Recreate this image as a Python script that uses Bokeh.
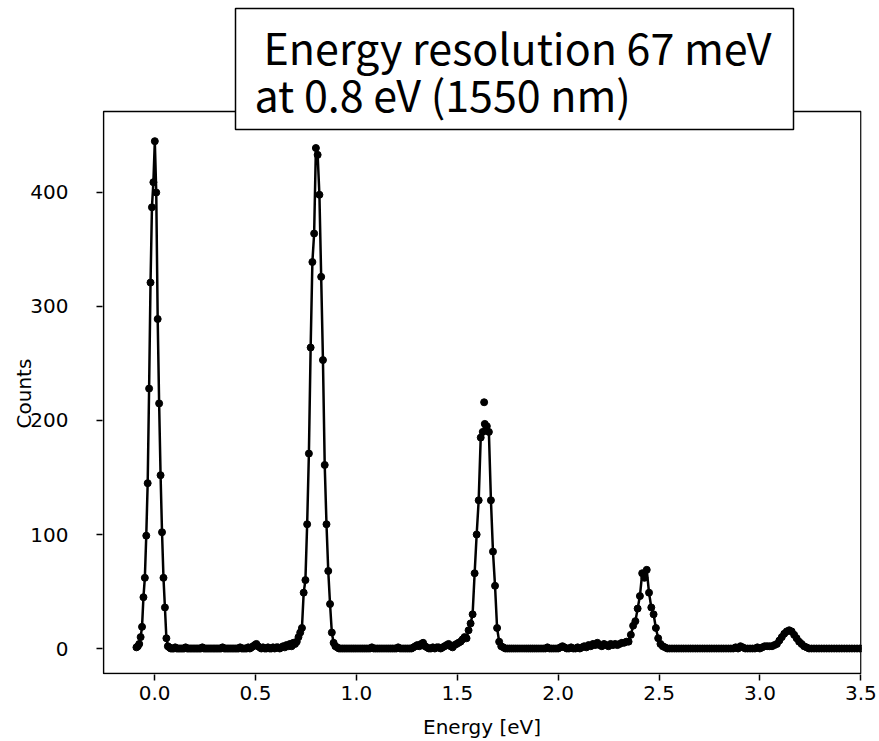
import numpy as np
from bokeh.plotting import figure
from bokeh.models import FixedTicker, PrintfTickFormatter, BoxAnnotation, Label, Range1d, Title
from bokeh.embed import file_html
from bokeh.resources import INLINE

# Energy calibration of the channels (eV)
CAL_OFFSET = -0.09
CAL_GAIN = 0.0069
CAL_QUAD = 7.9e-6

# Counts per channel
counts = [
    1, 2, 4, 10, 19, 45, 62, 99, 145, 228,
    321, 387, 409, 445, 400, 289, 215, 152, 102, 62,
    36, 9, 2, 1, 0, 0, 0, 1, 0, 0,
    0, 0, 0, 0, 1, 0, 0, 0, 0, 0,
    0, 0, 0, 0, 0, 1, 0, 0, 0, 0,
    0, 0, 0, 0, 0, 0, 0, 0, 1, 0,
    0, 0, 0, 0, 0, 0, 0, 0, 0, 1,
    0, 0, 0, 0, 1, 0, 1, 2, 3, 4,
    2, 1, 0, 1, 0, 0, 1, 0, 0, 1,
    0, 1, 1, 0, 1, 2, 1, 3, 2, 4,
    2, 5, 4, 6, 10, 14, 18, 49, 60, 109,
    171, 264, 339, 364, 439, 433, 398, 326, 253, 161,
    109, 68, 39, 14, 5, 2, 1, 0, 0, 0,
    0, 0, 0, 0, 0, 0, 0, 0, 0, 0,
    0, 0, 0, 0, 0, 1, 0, 0, 0, 0,
    0, 0, 0, 0, 0, 0, 0, 0, 0, 1,
    0, 0, 0, 0, 0, 0, 0, 1, 2, 3,
    2, 4, 5, 2, 1, 0, 0, 1, 0, 1,
    1, 0, 1, 2, 3, 4, 2, 1, 3, 4,
    5, 6, 8, 10, 9, 16, 22, 30, 66, 100,
    130, 185, 190, 197, 195, 190, 130, 85, 55, 18,
    6, 2, 1, 0, 0, 0, 0, 0, 0, 0,
    0, 0, 0, 0, 0, 0, 0, 0, 0, 0,
    0, 0, 0, 1, 0, 0, 0, 0, 0, 1,
    2, 1, 0, 0, 1, 0, 0, 1, 0, 1,
    2, 1, 3, 2, 4, 3, 5, 3, 2, 4,
    3, 2, 4, 3, 4, 3, 4, 5, 5, 6,
    6, 12, 20, 24, 35, 46, 66, 62, 69, 49,
    36, 30, 18, 9, 4, 2, 1, 0, 0, 0,
    0, 0, 0, 0, 0, 0, 0, 0, 0, 0,
    0, 0, 0, 0, 0, 0, 0, 0, 0, 0,
    0, 0, 0, 0, 0, 0, 1, 0, 2, 1,
    0, 0, 0, 0, 0, 1, 0, 1, 2, 2,
    2, 2, 3, 4, 7, 10, 13, 15, 16, 15,
    12, 9, 6, 4, 2, 1, 0, 0, 0, 0,
    0, 0, 0, 0, 0, 0, 0, 0, 0, 0,
    0, 0, 0, 0, 0, 0, 0, 0,
]

# Isolated point above the third peak (not on the line)
outlier_energy = [1.633]
outlier_counts = [216]

x_ticks = [0.0, 0.5, 1.0, 1.5, 2.0, 2.5, 3.0, 3.5]
y_ticks = [0, 100, 200, 300, 400]

# axes limits of the visible plot box
X_MIN, X_MAX = -0.253, 3.5
Y_MIN, Y_MAX = -21.9, 471.0

title_line1 = "Energy resolution 67 meV"
title_line2 = "at 0.8 eV (1550 nm)"

ch = np.arange(len(counts))
energy = CAL_OFFSET + CAL_GAIN * ch + CAL_QUAD * ch ** 2

# The drawing area extends above the axes box so the title box can overlap it
p = figure(width=879, height=741, output_backend="svg", toolbar_location=None,
           x_range=Range1d(-0.2582, 3.503), y_range=Range1d(-22.8, 568.4),
           min_border_left=102, min_border_right=18, min_border_top=0,
           min_border_bottom=67)
p.background_fill_color = "white"
p.border_fill_color = "white"
p.outline_line_color = None
p.grid.visible = False

p.line(energy, counts, line_color="black", line_width=2.5)
p.scatter(energy, counts, size=7, color="black")
p.scatter(outlier_energy, outlier_counts, size=7, color="black")

for ax in (p.xaxis[0], p.yaxis[0]):
    ax.axis_line_color = None
    ax.major_tick_line_color = "black"
    ax.major_tick_line_width = 1.5
    ax.major_tick_out = 6
    ax.major_tick_in = 0
    ax.minor_tick_line_color = None
    ax.major_label_text_font = "DejaVu Sans"
    ax.major_label_text_font_size = "20px"
    ax.major_label_text_color = "black"
    ax.axis_label_text_font = "DejaVu Sans"
    ax.axis_label_text_font_size = "20px"
    ax.axis_label_text_font_style = "normal"
    ax.axis_label_text_color = "black"

p.xaxis.ticker = FixedTicker(ticks=x_ticks)
p.xaxis.formatter = PrintfTickFormatter(format="%.1f")
p.xaxis.axis_label = "Energy [eV]"
p.xaxis.major_label_standoff = 5
p.xaxis.axis_label_standoff = 12

p.yaxis.ticker = FixedTicker(ticks=y_ticks)
p.yaxis.major_label_standoff = 28

ylab = Title(text="Counts", align="left", offset=246, standoff=-16,
             text_font="DejaVu Sans", text_font_size="20px",
             text_font_style="normal", text_color="black")
p.add_layout(ylab, "left")

# visible axes box
frame_box = BoxAnnotation(left=X_MIN, right=X_MAX, bottom=Y_MIN, top=Y_MAX,
                          fill_color=None, line_color="black", line_alpha=1.0,
                          line_width=1.5)
p.add_layout(frame_box)

# title box (screen units, relative to the drawing area)
box = BoxAnnotation(left=133, right=691, top=666, bottom=545,
                    left_units="screen", right_units="screen",
                    top_units="screen", bottom_units="screen",
                    fill_color="white", fill_alpha=1.0,
                    line_color="black", line_alpha=1.0, line_width=1.5)
p.add_layout(box)

lab1 = Label(x=161, y=629, x_units="screen", y_units="screen", text=title_line1,
             text_font="Noto Sans CJK JP", text_font_size="43px",
             text_color="black", text_baseline="alphabetic")
lab2 = Label(x=152, y=582, x_units="screen", y_units="screen", text=title_line2,
             text_font="Noto Sans CJK JP", text_font_size="43px",
             text_color="black", text_baseline="alphabetic")
p.add_layout(lab1)
p.add_layout(lab2)

open("out.html", "w").write(file_html(p, INLINE))
